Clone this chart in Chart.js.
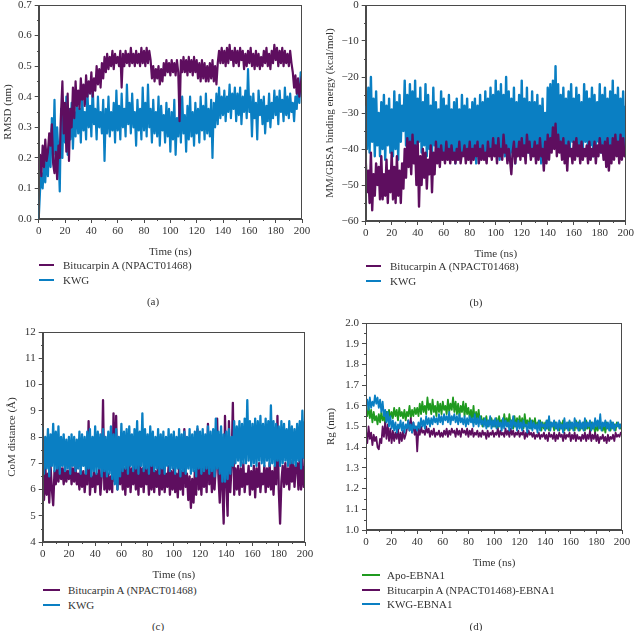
<!DOCTYPE html>
<html>
<head>
<meta charset="utf-8">
<script src="https://cdn.jsdelivr.net/npm/chart.js@4.4.1/dist/chart.umd.min.js"></script>
<style>
  html, body { margin: 0; padding: 0; background: #fff; }
  body { position: relative; width: 636px; height: 631px; overflow: hidden;
         font-family: 'Liberation Serif', 'DejaVu Serif', serif; color: #333; font-size: 11px; }
  .panel { position: absolute; }
  .leg { position: absolute; line-height: 14.5px; white-space: nowrap; }
  .leg i { display: inline-block; width: 15px; height: 2px; vertical-align: middle; margin-right: 9px; position: relative; top: -1px; }
  .cap { position: absolute; width: 40px; margin-left: -20px; text-align: center; }
</style>
</head>
<body>
<div class="panel" style="left:0;top:-5px;width:314px;height:264px"><canvas id="chartRmsd"></canvas></div>
<div class="panel" style="left:318px;top:-5px;width:318px;height:266px"><canvas id="chartEnergie"></canvas></div>
<div class="panel" style="left:0;top:322px;width:317px;height:260px"><canvas id="chartCom"></canvas></div>
<div class="panel" style="left:318px;top:313px;width:316px;height:257px"><canvas id="chartRg"></canvas></div>

<div class="leg" style="left:39px;top:258px">
  <div><i style="background:#5e0e5f"></i>Bitucarpin A (NPACT01468)</div>
  <div><i style="background:#0a7fc3"></i>KWG</div>
</div>
<div class="leg" style="left:366px;top:259px">
  <div><i style="background:#5e0e5f"></i>Bitucarpin A (NPACT01468)</div>
  <div><i style="background:#0a7fc3"></i>KWG</div>
</div>
<div class="leg" style="left:43px;top:583px">
  <div><i style="background:#5e0e5f;width:17px;margin-right:8px"></i>Bitucarpin A (NPACT01468)</div>
  <div><i style="background:#0a7fc3;width:17px;margin-right:8px"></i>KWG</div>
</div>
<div class="leg" style="left:362px;top:568px">
  <div><i style="background:#1f9a1f;width:18px;margin-right:7px"></i>Apo-EBNA1</div>
  <div><i style="background:#5e0e5f;width:18px;margin-right:7px"></i>Bitucarpin A (NPACT01468)-EBNA1</div>
  <div><i style="background:#0a7fc3;width:18px;margin-right:7px"></i>KWG-EBNA1</div>
</div>
<div class="cap" style="left:153px;top:295px">(a)</div>
<div class="cap" style="left:476px;top:296px">(b)</div>
<div class="cap" style="left:158px;top:620px">(c)</div>
<div class="cap" style="left:476px;top:620px">(d)</div>

<script>
// Zeitachse: 0–200 ns, ein Wert je ns
const TIME = Array.from({ length: 201 }, (_, i) => i);

// (a) RMSD (nm)
const RMSD_BITU = [
  0.16,0.21,0.14,0.24,0.17,0.26,0.19,0.22,0.28,0.24,
  0.31,0.18,0.15,0.22,0.13,0.24,0.20,0.35,0.45,0.28,
  0.38,0.22,0.41,0.19,0.36,0.30,0.43,0.33,0.45,0.37,
  0.42,0.36,0.46,0.39,0.44,0.37,0.47,0.40,0.45,0.41,
  0.48,0.40,0.46,0.42,0.50,0.44,0.49,0.43,0.51,0.46,
  0.53,0.48,0.54,0.49,0.53,0.50,0.55,0.49,0.54,0.51,
  0.53,0.50,0.55,0.43,0.54,0.50,0.55,0.51,0.54,0.50,
  0.56,0.51,0.54,0.50,0.55,0.51,0.54,0.50,0.56,0.51,
  0.55,0.50,0.56,0.51,0.55,0.52,0.46,0.50,0.45,0.49,
  0.46,0.50,0.44,0.49,0.45,0.51,0.47,0.52,0.48,0.51,
  0.47,0.52,0.48,0.51,0.47,0.52,0.48,0.32,0.52,0.48,
  0.53,0.48,0.52,0.47,0.53,0.48,0.52,0.47,0.53,0.48,
  0.52,0.46,0.51,0.45,0.52,0.46,0.51,0.45,0.50,0.45,
  0.51,0.46,0.52,0.45,0.50,0.44,0.51,0.55,0.51,0.56,
  0.51,0.55,0.50,0.56,0.51,0.57,0.52,0.55,0.50,0.56,
  0.51,0.55,0.50,0.56,0.52,0.55,0.49,0.54,0.50,0.55,
  0.51,0.56,0.50,0.54,0.49,0.55,0.50,0.54,0.49,0.53,
  0.50,0.55,0.51,0.56,0.50,0.54,0.49,0.55,0.51,0.57,
  0.52,0.56,0.50,0.55,0.51,0.56,0.50,0.55,0.51,0.54,
  0.50,0.55,0.51,0.48,0.43,0.47,0.41,0.46,0.40,0.44,0.47,
];
const RMSD_KWG = [
  0.00,0.09,0.15,0.10,0.18,0.12,0.22,0.14,0.26,0.17,
  0.33,0.21,0.39,0.16,0.30,0.22,0.09,0.36,0.20,0.38,
  0.25,0.40,0.21,0.36,0.26,0.38,0.23,0.35,0.27,0.40,
  0.28,0.36,0.25,0.41,0.29,0.35,0.26,0.42,0.30,0.37,
  0.27,0.44,0.31,0.36,0.26,0.40,0.30,0.35,0.28,0.39,
  0.19,0.36,0.28,0.40,0.27,0.35,0.29,0.38,0.25,0.42,
  0.29,0.37,0.26,0.41,0.30,0.36,0.27,0.44,0.31,0.38,
  0.28,0.41,0.30,0.35,0.24,0.39,0.29,0.36,0.26,0.43,
  0.29,0.38,0.27,0.44,0.30,0.36,0.25,0.39,0.28,0.35,
  0.27,0.40,0.24,0.37,0.29,0.34,0.25,0.38,0.27,0.36,
  0.22,0.35,0.26,0.39,0.21,0.33,0.27,0.38,0.25,0.40,
  0.28,0.34,0.22,0.37,0.26,0.40,0.27,0.35,0.24,0.38,
  0.28,0.36,0.25,0.40,0.29,0.37,0.26,0.41,0.28,0.36,
  0.27,0.39,0.20,0.38,0.30,0.41,0.31,0.43,0.33,0.40,
  0.34,0.42,0.32,0.40,0.35,0.44,0.33,0.41,0.36,0.43,
  0.32,0.41,0.34,0.43,0.31,0.40,0.35,0.42,0.33,0.49,
  0.35,0.40,0.27,0.41,0.33,0.38,0.26,0.42,0.34,0.39,
  0.31,0.40,0.28,0.37,0.32,0.41,0.30,0.38,0.33,0.42,
  0.34,0.40,0.31,0.42,0.35,0.39,0.32,0.43,0.34,0.40,
  0.33,0.41,0.35,0.38,0.32,0.40,0.36,0.44,0.38,0.48,0.42,
];

// (b) MM/GBSA-Bindungsenergie (kcal/mol)
const DG_BITU = [
  -43,-52,-46,-55,-41,-57,-47,-53,-44,-50,
  -45,-54,-42,-54,-47,-53,-43,-55,-46,-52,
  -41,-54,-45,-55,-42,-53,-46,-55,-44,-51,
  -40,-48,-37,-45,-38,-47,-36,-44,-39,-50,
  -38,-56,-42,-50,-40,-48,-41,-51,-43,-47,
  -39,-52,-41,-47,-38,-44,-40,-45,-39,-43,
  -41,-44,-38,-43,-40,-44,-39,-43,-41,-44,
  -40,-43,-38,-44,-41,-42,-39,-44,-40,-43,
  -38,-44,-40,-43,-39,-42,-38,-44,-40,-43,
  -39,-43,-41,-44,-38,-42,-40,-43,-37,-42,
  -39,-44,-37,-42,-40,-43,-36,-41,-39,-44,
  -40,-43,-47,-41,-38,-44,-40,-42,-38,-43,
  -37,-42,-39,-44,-36,-41,-38,-43,-40,-42,
  -38,-44,-39,-43,-37,-42,-40,-46,-38,-44,
  -36,-43,-37,-41,-34,-40,-33,-42,-36,-41,
  -38,-43,-37,-44,-39,-46,-38,-42,-40,-44,
  -38,-43,-37,-42,-39,-44,-38,-43,-40,-42,
  -39,-44,-38,-43,-40,-42,-38,-44,-39,-42,
  -37,-41,-39,-43,-38,-45,-37,-46,-39,-44,
  -37,-43,-36,-42,-38,-44,-36,-43,-37,-42,-40,
];
const DG_KWG = [
  -28,-40,-23,-41,-20,-38,-26,-42,-24,-39,
  -30,-42,-27,-40,-25,-43,-28,-39,-26,-41,
  -29,-42,-24,-40,-27,-43,-25,-38,-28,-35,
  -21,-39,-25,-41,-22,-38,-24,-42,-21,-40,
  -26,-38,-23,-41,-27,-39,-22,-42,-25,-40,
  -28,-41,-23,-39,-27,-42,-29,-40,-24,-41,
  -26,-43,-28,-40,-25,-42,-29,-41,-27,-44,
  -26,-40,-29,-43,-25,-41,-28,-42,-26,-40,
  -29,-43,-27,-41,-26,-44,-28,-40,-25,-42,
  -27,-41,-24,-43,-26,-40,-23,-42,-25,-41,
  -21,-40,-24,-43,-22,-41,-25,-42,-20,-40,
  -24,-43,-26,-41,-23,-44,-27,-40,-25,-42,
  -21,-40,-26,-43,-23,-41,-27,-42,-24,-40,
  -27,-43,-25,-41,-28,-44,-26,-40,-30,-42,
  -23,-39,-22,-40,-21,-39,-17,-38,-22,-40,
  -25,-41,-23,-39,-26,-42,-24,-40,-22,-38,
  -26,-41,-23,-39,-25,-42,-27,-40,-22,-38,
  -24,-41,-26,-39,-23,-42,-25,-40,-27,-38,
  -22,-41,-25,-39,-23,-40,-26,-42,-24,-39,
  -21,-40,-25,-38,-23,-41,-26,-39,-24,-40,-28,
];

// (c) Schwerpunktabstand CoM (Å)
const COM_BITU = [
  6.5,5.6,6.9,5.8,6.6,5.5,6.9,6.0,5.4,6.7,
  6.2,6.9,6.3,7.0,6.4,6.8,6.2,6.9,6.3,6.7,
  6.4,7.0,6.2,6.8,6.3,6.9,6.2,6.6,6.0,6.8,
  6.1,6.7,5.9,6.6,6.2,8.6,5.8,6.5,6.1,6.7,
  5.9,6.6,6.2,6.8,5.8,6.5,9.4,6.0,6.7,5.9,
  6.6,6.0,6.5,5.9,8.9,6.3,8.8,6.0,6.9,6.2,
  7.0,6.0,6.8,5.8,6.9,6.1,7.0,5.9,6.8,6.2,
  7.1,6.0,6.9,5.8,7.0,6.1,6.8,5.9,7.0,6.2,
  6.8,5.8,6.9,6.0,7.0,5.9,6.7,6.1,6.9,5.8,
  6.8,6.0,7.0,5.9,6.6,6.1,6.9,5.8,6.7,6.0,
  6.8,5.9,6.6,5.7,6.9,6.0,6.7,5.8,8.3,6.1,
  6.6,5.6,6.5,5.3,6.4,5.5,6.7,5.8,8.3,6.0,
  6.8,5.8,7.0,6.1,6.9,5.9,8.5,6.2,7.0,5.9,
  6.8,6.0,6.9,8.7,6.5,5.5,7.0,6.1,4.7,8.8,
  6.2,5.0,8.6,5.9,6.9,9.3,5.8,6.8,6.0,6.9,
  5.8,6.8,6.1,7.0,5.9,6.6,6.2,6.9,5.8,6.7,
  6.0,6.9,5.7,6.8,6.1,7.0,5.9,6.6,6.2,6.9,
  5.9,6.8,6.1,7.0,6.0,6.7,5.8,6.9,6.2,8.8,
  6.0,4.7,6.3,6.9,6.1,7.0,6.2,6.8,6.0,7.1,
  6.3,7.0,6.1,6.9,7.0,6.0,7.3,6.0,7.2,6.1,6.9,
];
const COM_KWG = [
  8.4,6.6,8.0,6.8,8.3,6.5,8.1,6.9,8.5,6.7,
  8.2,6.8,8.4,6.6,8.0,6.9,8.1,6.7,7.9,6.8,
  8.0,6.6,8.1,6.9,8.0,6.7,7.9,6.8,8.2,6.6,
  8.1,6.9,8.0,6.6,8.2,6.8,8.3,6.5,8.0,6.7,
  8.4,6.6,8.2,6.8,8.1,6.5,8.3,6.7,8.0,6.5,
  8.2,6.6,8.4,6.4,8.1,6.2,8.3,6.0,8.0,6.5,
  8.5,6.7,8.2,6.8,8.3,6.6,8.4,6.9,8.1,6.7,
  8.3,6.8,8.6,6.6,8.2,6.9,8.9,6.7,8.3,6.8,
  8.1,6.6,8.4,6.9,8.2,6.7,8.0,6.8,8.3,6.6,
  8.1,6.8,8.2,6.6,8.0,6.9,8.3,6.7,8.1,6.8,
  8.2,6.6,8.0,6.8,8.3,6.5,8.1,6.7,8.2,6.6,
  8.0,6.8,8.3,6.6,8.1,6.7,8.2,6.5,8.4,6.8,
  8.2,6.6,8.3,6.7,8.1,6.8,8.4,6.6,8.2,6.7,
  8.3,6.5,8.7,6.8,8.2,6.6,8.4,6.3,8.1,6.3,
  8.2,6.4,8.3,6.6,8.0,6.9,8.6,7.0,8.4,7.1,
  8.6,6.9,8.5,7.0,8.7,7.0,9.4,7.1,8.6,6.9,
  8.5,7.0,8.7,6.9,8.6,7.1,8.8,7.0,8.5,6.9,
  8.7,7.1,8.6,6.9,9.2,7.0,8.6,6.9,8.5,7.1,
  8.4,6.9,8.6,7.0,8.5,7.1,8.3,6.9,8.6,7.0,
  8.4,7.0,8.3,6.9,8.5,7.1,8.6,6.8,9.0,7.2,8.6,
];

// (d) Gyrationsradius Rg (nm)
const RG_APO = [
  1.57,1.55,1.60,1.54,1.58,1.52,1.57,1.53,1.55,1.51,
  1.56,1.52,1.57,1.53,1.55,1.51,1.57,1.53,1.58,1.54,
  1.57,1.54,1.59,1.55,1.58,1.53,1.59,1.55,1.57,1.54,
  1.58,1.53,1.57,1.55,1.60,1.54,1.58,1.55,1.59,1.56,
  1.59,1.55,1.61,1.56,1.62,1.57,1.60,1.56,1.64,1.58,
  1.61,1.56,1.63,1.57,1.60,1.55,1.62,1.57,1.61,1.56,
  1.62,1.58,1.60,1.56,1.63,1.57,1.61,1.58,1.64,1.57,
  1.62,1.56,1.61,1.55,1.60,1.57,1.62,1.55,1.61,1.56,
  1.59,1.54,1.58,1.53,1.60,1.52,1.57,1.53,1.58,1.52,
  1.55,1.50,1.54,1.51,1.55,1.50,1.53,1.51,1.54,1.50,
  1.53,1.50,1.54,1.49,1.55,1.51,1.53,1.50,1.56,1.51,
  1.54,1.50,1.56,1.51,1.53,1.49,1.55,1.50,1.54,1.51,
  1.55,1.50,1.54,1.49,1.56,1.51,1.53,1.50,1.54,1.49,
  1.53,1.50,1.54,1.49,1.52,1.50,1.53,1.48,1.52,1.49,
  1.52,1.49,1.53,1.48,1.52,1.50,1.51,1.48,1.52,1.49,
  1.51,1.48,1.52,1.49,1.53,1.48,1.51,1.49,1.52,1.48,
  1.52,1.49,1.51,1.48,1.53,1.49,1.52,1.48,1.51,1.49,
  1.52,1.48,1.53,1.49,1.51,1.48,1.52,1.49,1.50,1.47,
  1.51,1.48,1.52,1.49,1.50,1.48,1.51,1.47,1.52,1.49,
  1.50,1.48,1.52,1.49,1.51,1.48,1.52,1.50,1.51,1.49,1.52,
];
const RG_BITU = [
  1.48,1.42,1.50,1.44,1.47,1.41,1.46,1.43,1.45,1.40,
  1.39,1.44,1.42,1.50,1.45,1.52,1.44,1.51,1.43,1.49,
  1.42,1.48,1.43,1.47,1.44,1.49,1.42,1.47,1.43,1.48,
  1.44,1.46,1.49,1.53,1.48,1.54,1.47,1.52,1.46,1.50,
  1.38,1.49,1.46,1.50,1.47,1.48,1.46,1.50,1.47,1.49,
  1.45,1.48,1.46,1.49,1.45,1.47,1.46,1.48,1.45,1.47,
  1.45,1.48,1.46,1.49,1.45,1.48,1.46,1.49,1.47,1.48,
  1.45,1.49,1.46,1.48,1.45,1.49,1.47,1.48,1.46,1.49,
  1.45,1.48,1.46,1.49,1.45,1.47,1.46,1.48,1.45,1.47,
  1.45,1.48,1.46,1.47,1.44,1.48,1.45,1.47,1.46,1.48,
  1.45,1.47,1.46,1.49,1.45,1.48,1.46,1.47,1.45,1.49,
  1.46,1.48,1.45,1.49,1.46,1.48,1.45,1.47,1.46,1.48,
  1.45,1.47,1.46,1.48,1.44,1.47,1.45,1.48,1.46,1.47,
  1.45,1.47,1.44,1.46,1.45,1.47,1.44,1.46,1.45,1.47,
  1.44,1.46,1.43,1.47,1.45,1.46,1.44,1.47,1.43,1.46,
  1.44,1.47,1.45,1.46,1.43,1.47,1.44,1.46,1.45,1.47,
  1.43,1.46,1.44,1.47,1.43,1.46,1.44,1.45,1.43,1.46,
  1.44,1.47,1.43,1.46,1.44,1.48,1.43,1.46,1.44,1.47,
  1.43,1.46,1.42,1.45,1.44,1.46,1.43,1.45,1.42,1.46,
  1.43,1.45,1.44,1.46,1.43,1.47,1.45,1.46,1.45,1.47,1.46,
];
const RG_KWG = [
  1.60,1.63,1.58,1.64,1.59,1.62,1.60,1.65,1.61,1.64,
  1.59,1.63,1.57,1.62,1.55,1.58,1.52,1.57,1.50,1.55,
  1.49,1.53,1.48,1.52,1.47,1.51,1.49,1.53,1.48,1.52,
  1.47,1.51,1.49,1.53,1.48,1.51,1.47,1.52,1.49,1.50,
  1.48,1.52,1.49,1.54,1.50,1.53,1.49,1.55,1.51,1.54,
  1.50,1.54,1.51,1.55,1.52,1.54,1.51,1.56,1.52,1.55,
  1.51,1.56,1.53,1.55,1.52,1.57,1.51,1.55,1.53,1.56,
  1.52,1.55,1.51,1.56,1.52,1.54,1.51,1.55,1.50,1.54,
  1.51,1.55,1.52,1.54,1.50,1.56,1.51,1.54,1.50,1.55,
  1.51,1.53,1.50,1.54,1.49,1.53,1.50,1.55,1.49,1.53,
  1.50,1.54,1.49,1.53,1.50,1.52,1.48,1.54,1.49,1.53,
  1.50,1.52,1.48,1.53,1.49,1.55,1.50,1.52,1.48,1.53,
  1.49,1.52,1.48,1.53,1.50,1.51,1.47,1.52,1.49,1.53,
  1.48,1.52,1.49,1.51,1.47,1.53,1.48,1.52,1.50,1.51,
  1.48,1.53,1.49,1.55,1.48,1.52,1.50,1.53,1.49,1.52,
  1.48,1.53,1.49,1.51,1.47,1.54,1.49,1.52,1.48,1.53,
  1.49,1.52,1.48,1.54,1.50,1.52,1.48,1.53,1.49,1.52,
  1.48,1.54,1.49,1.52,1.50,1.53,1.48,1.52,1.49,1.54,
  1.50,1.53,1.49,1.56,1.48,1.52,1.50,1.53,1.49,1.52,
  1.48,1.53,1.49,1.52,1.48,1.51,1.50,1.52,1.49,1.51,1.50,
];

const LILA = '#5e0e5f', BLAU = '#0a7fc3', GRUEN = '#1f9a1f';
const ACHSE = '#4a4a4a', TEXT = '#333';
const schrift = { family: "'Liberation Serif', 'DejaVu Serif', serif", size: 11 };

// Rahmen oben/rechts + kleine Zwischenstriche an den Achsen
const rahmen = {
  id: 'rahmen',
  afterDraw(chart, args, opts) {
    const { ctx, chartArea: a, scales: { x, y } } = chart;
    ctx.save();
    ctx.strokeStyle = ACHSE;
    ctx.lineWidth = 1;
    const l = Math.round(a.left) + 0.5, r = Math.round(a.right) - 0.5;
    const t = Math.round(a.top) + 0.5, b = Math.round(a.bottom) - 0.5;
    ctx.strokeRect(l, t, r - l, b - t);
    ctx.beginPath();
    for (let v = x.min + opts.xMinor; v < x.max; v += 2 * opts.xMinor) {
      const px = Math.round(x.getPixelForValue(v)) + 0.5;
      ctx.moveTo(px, b); ctx.lineTo(px, b + 2.5);
    }
    for (let v = y.min + opts.yMinor; v < y.max; v += 2 * opts.yMinor) {
      const py = Math.round(y.getPixelForValue(v)) + 0.5;
      ctx.moveTo(l, py); ctx.lineTo(l - 2.5, py);
    }
    ctx.stroke();
    ctx.restore();
  },
};

// erste Serie wird zuoberst gezeichnet
function panel(canvasId, cfg) {
  return new Chart(document.getElementById(canvasId), {
    type: 'line',
    data: {
      datasets: cfg.serien.map((s, i) => ({
        label: s.label,
        data: TIME.map((t, k) => ({ x: t, y: s.werte[k] })),
        borderColor: s.farbe,
        borderWidth: cfg.strich,
        borderJoinStyle: 'round',
        pointRadius: 0,
        tension: 0,
        order: i,
      })),
    },
    options: {
      responsive: true,
      maintainAspectRatio: false,
      animation: false,
      layout: { padding: { top: 10, right: cfg.rechts, left: 0, bottom: 0 } },
      plugins: {
        legend: { display: false },
        tooltip: { enabled: false },
        rahmen: { xMinor: 10, yMinor: cfg.yMinor },
      },
      scales: {
        x: {
          type: 'linear', min: 0, max: 200,
          ticks: { stepSize: 20, color: TEXT, padding: 2, font: schrift },
          grid: { drawOnChartArea: false, tickLength: 4, color: ACHSE },
          border: { color: ACHSE },
          title: { display: true, text: 'Time (ns)', color: TEXT, font: schrift, padding: { top: 2, bottom: 0 } },
          afterFit: (s) => { s.height = 40; },
        },
        y: {
          type: 'linear', min: cfg.yMin, max: cfg.yMax,
          ticks: { stepSize: cfg.yStep, color: TEXT, padding: 3, font: schrift, callback: cfg.fmt },
          grid: { drawOnChartArea: false, tickLength: 4, color: ACHSE },
          border: { color: ACHSE },
          title: { display: true, text: cfg.yTitel, color: TEXT, font: schrift, padding: { top: cfg.titelAbstand, bottom: 0 } },
          afterFit: (s) => { s.width = cfg.yBreite; },
        },
      },
    },
    plugins: [rahmen],
  });
}

const eineStelle = (v) => v.toFixed(1);
const minus = (v) => String(v).replace('-', '\u2212');

panel('chartRmsd', {
  yMin: 0, yMax: 0.7, yStep: 0.1, yMinor: 0.05, fmt: eineStelle, strich: 2.2,
  yTitel: 'RMSD (nm)', yBreite: 38.7, titelAbstand: 1.5, rechts: 12,
  serien: [
    { label: 'Bitucarpin A (NPACT01468)', werte: RMSD_BITU, farbe: LILA },
    { label: 'KWG', werte: RMSD_KWG, farbe: BLAU },
  ],
});

panel('chartEnergie', {
  yMin: -60, yMax: 0, yStep: 10, yMinor: 5, fmt: minus, strich: 2.4,
  yTitel: 'MM/GBSA binding energy (kcal/mol)', yBreite: 47.7, titelAbstand: 6, rechts: 6,
  serien: [
    { label: 'Bitucarpin A (NPACT01468)', werte: DG_BITU, farbe: LILA },
    { label: 'KWG', werte: DG_KWG, farbe: BLAU },
  ],
});

panel('chartCom', {
  yMin: 4, yMax: 12, yStep: 1, yMinor: 0.5, fmt: (v) => String(v), strich: 2.3,
  yTitel: 'CoM distance (Å)', yBreite: 42.7, titelAbstand: 5.4, rechts: 12,
  serien: [
    { label: 'KWG', werte: COM_KWG, farbe: BLAU },
    { label: 'Bitucarpin A (NPACT01468)', werte: COM_BITU, farbe: LILA },
  ],
});

panel('chartRg', {
  yMin: 1.0, yMax: 2.0, yStep: 0.1, yMinor: 0.05, fmt: eineStelle, strich: 1.8,
  yTitel: 'Rg (nm)', yBreite: 48, titelAbstand: 6.4, rechts: 12,
  serien: [
    { label: 'KWG-EBNA1', werte: RG_KWG, farbe: BLAU },
    { label: 'Bitucarpin A (NPACT01468)-EBNA1', werte: RG_BITU, farbe: LILA },
    { label: 'Apo-EBNA1', werte: RG_APO, farbe: GRUEN },
  ],
});
</script>
</body>
</html>
